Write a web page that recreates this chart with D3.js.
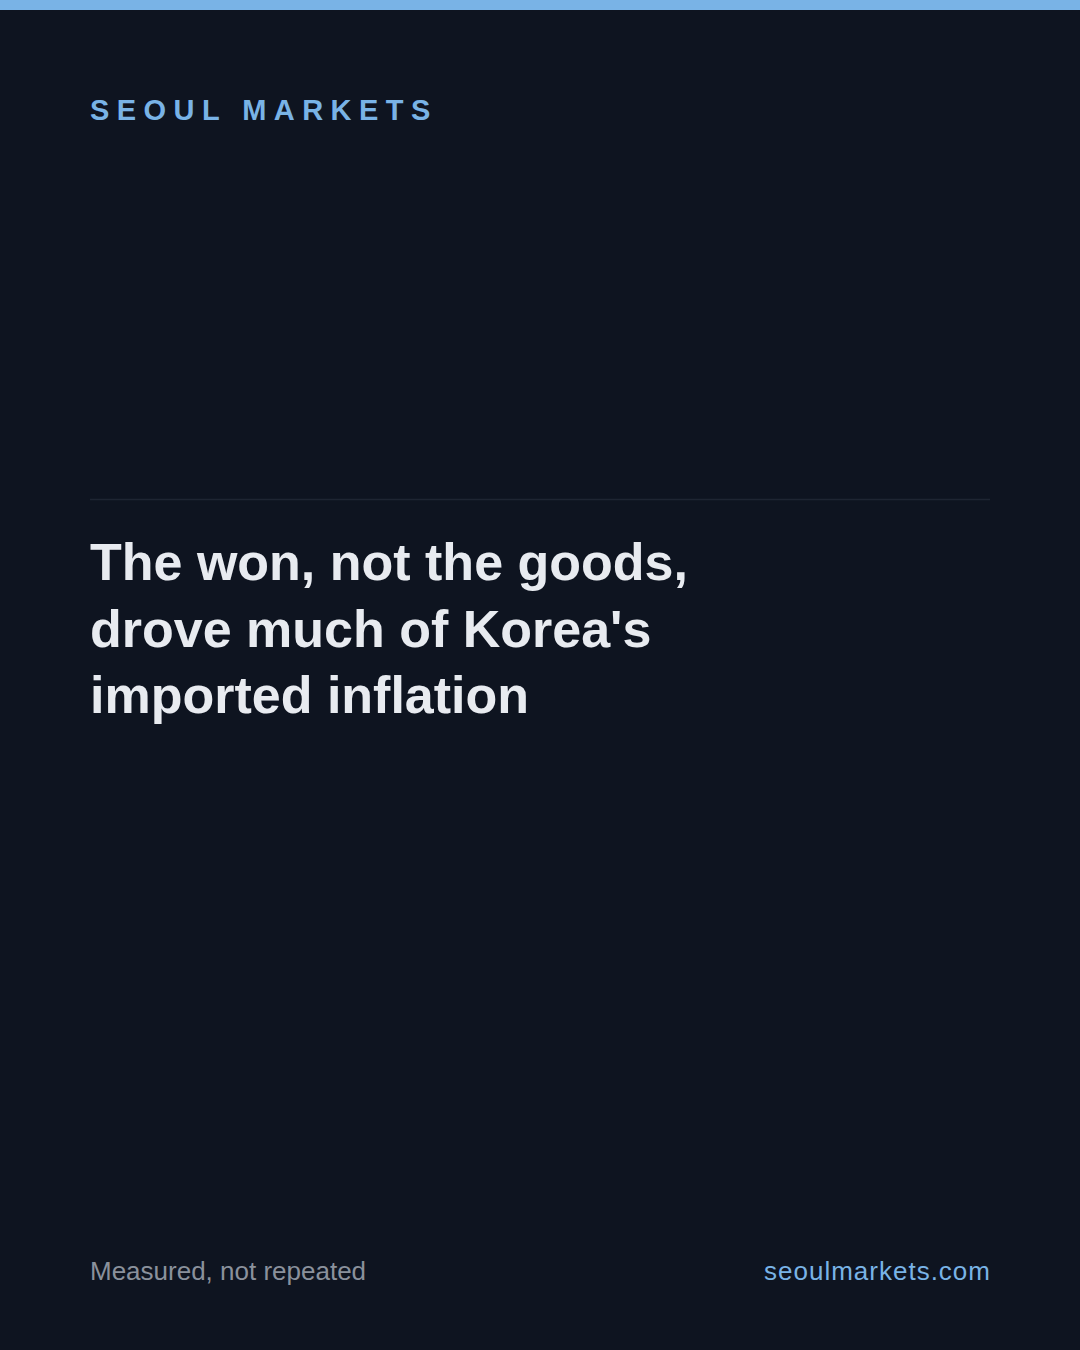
<!DOCTYPE html>
<html>
<head>
<meta charset="utf-8">
<script src="https://cdn.jsdelivr.net/npm/d3@7"></script>
<style>
  html, body { margin: 0; padding: 0; background: #0e1420; }
  svg { display: block; }
</style>
</head>
<body>
<div id="card"></div>
<script>
// text content of the card
var brand = "SEOUL MARKETS";
var titleLines = ["The won, not the goods,", "drove much of Korea's", "imported inflation"];
var footerLeft = "Measured, not repeated";
var footerRight = "seoulmarkets.com";

var width = 1080, height = 1350;
var margin = {left: 90, right: 90};

var svg = d3.select("#card").append("svg")
    .attr("width", width)
    .attr("height", height)
    .style("font-family", "'Liberation Sans', Arial, sans-serif");

svg.append("rect")
    .attr("width", width)
    .attr("height", height)
    .attr("fill", "#0e1420");

// accent bar on top
svg.append("rect")
    .attr("width", width)
    .attr("height", 10)
    .attr("fill", "#79b3e6");

svg.append("text")
    .attr("x", margin.left)
    .attr("y", 120)
    .attr("fill", "#79b3e6")
    .style("font-size", "29px")
    .style("font-weight", "bold")
    .style("letter-spacing", "7.45px")
    .text(brand);

// thin divider
svg.append("line")
    .attr("x1", margin.left)
    .attr("x2", width - margin.right)
    .attr("y1", 499.5)
    .attr("y2", 499.5)
    .attr("stroke", "#1e2532")
    .attr("stroke-width", 1.5);

var y = d3.scaleLinear()
    .domain([0, titleLines.length - 1])
    .range([580, 713]);

svg.selectAll(".title")
    .data(titleLines)
    .enter().append("text")
    .attr("class", "title")
    .attr("x", margin.left)
    .attr("y", function(d, i) { return y(i); })
    .attr("fill", "#e8ebf0")
    .style("font-size", "52px")
    .style("font-weight", "bold")
    .text(function(d) { return d; });

svg.append("text")
    .attr("x", margin.left)
    .attr("y", 1280)
    .attr("fill", "#8a919c")
    .style("font-size", "26px")
    .text(footerLeft);

// trailing letter-spacing pushes end-anchored text left, so nudge by 1px
svg.append("text")
    .attr("x", width - margin.right + 1)
    .attr("y", 1280)
    .attr("text-anchor", "end")
    .attr("fill", "#79b3e6")
    .style("font-size", "26px")
    .style("letter-spacing", "1px")
    .text(footerRight);
</script>
</body>
</html>
